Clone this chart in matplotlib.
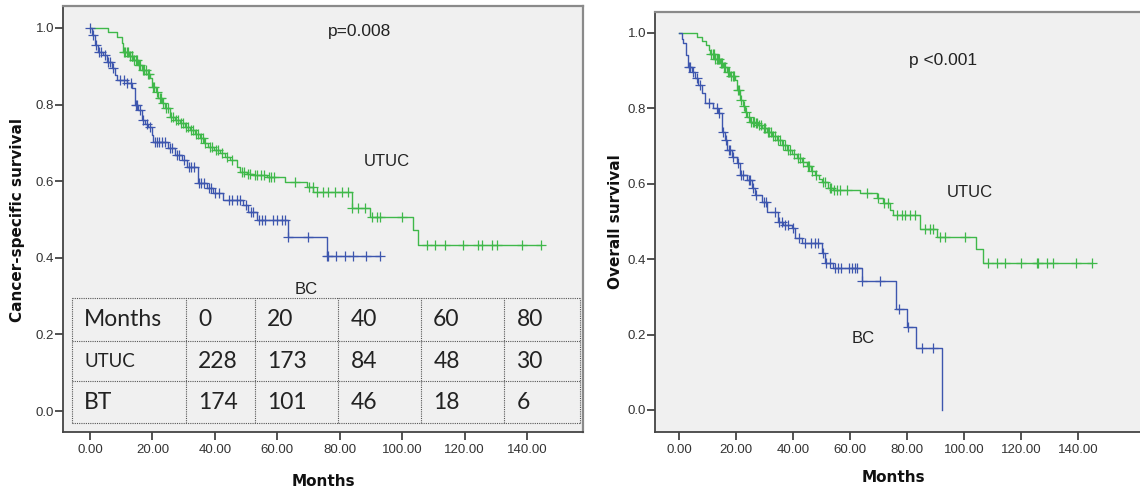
import numpy as np
import matplotlib
matplotlib.use("Agg")
import matplotlib.pyplot as plt

# ---------------- data ----------------
# Cancer-specific survival (left panel)
css_utuc_t = [5.9, 8.5, 10.1, 10.7, 12.5, 13.9, 15.3, 16.6, 18.0, 19.2, 19.8, 21.0, 21.9, 23.0, 24.0,
              25.6, 27.2, 28.8, 30.4, 32.0, 33.6, 35.2, 36.5, 37.9, 39.8, 41.7, 43.3, 44.9, 47.0, 48.1,
              50.2, 52.3, 56.6, 62.5, 69.4, 71.6, 83.8, 89.7, 103.6, 105.2]
css_utuc_s = [0.99, 0.977, 0.96, 0.938, 0.928, 0.916, 0.903, 0.89, 0.88, 0.869, 0.847, 0.832, 0.816, 0.803, 0.79,
              0.768, 0.76, 0.751, 0.742, 0.734, 0.723, 0.712, 0.70, 0.69, 0.682, 0.673, 0.664, 0.655, 0.638, 0.625,
              0.62, 0.616, 0.612, 0.599, 0.586, 0.571, 0.529, 0.507, 0.473, 0.433]
css_utuc_cens = [10.8, 11.3, 11.8, 12.2, 12.8, 13.3, 13.6, 14.2, 14.7, 15.0, 15.6, 16.1, 16.9, 17.4, 17.8, 18.5,
                 19.0, 20.2, 20.6, 21.4, 22.3, 22.8, 23.5, 24.4, 25.0, 26.0, 26.6, 27.6, 28.2, 29.3, 29.8, 30.8,
                 31.3, 32.5, 33.0, 33.9, 34.6, 35.6, 36.1, 37.0, 38.4, 39.2, 40.4, 41.0, 42.4, 43.8, 45.5, 48.6,
                 49.4, 50.7, 51.3, 52.8, 53.6, 54.9, 55.6, 57.4, 58.0, 59.1, 65.7, 70.3, 71.4, 72.6, 74.8, 76.4,
                 78.5, 80.6, 82.8, 83.9, 85.9, 88.0, 90.2, 91.9, 93.0, 99.9, 107.9, 110.5, 113.7, 119.6, 124.4,
                 125.5, 128.7, 130.3, 138.3, 144.5]

css_bc_t = [0.5, 1.6, 2.7, 4.3, 5.3, 6.9, 8.0, 8.5, 11.7, 13.5, 14.4, 15.5, 16.6, 17.5, 18.7,
            19.8, 20.3, 25.1, 27.2, 29.4, 31.0, 34.7, 37.4, 39.5, 42.7, 49.1, 50.7, 53.4, 63.5, 75.8]
css_bc_s = [0.982, 0.956, 0.938, 0.93, 0.912, 0.895, 0.877, 0.864, 0.856, 0.843, 0.799, 0.786, 0.76, 0.75, 0.742,
            0.721, 0.703, 0.686, 0.668, 0.655, 0.638, 0.595, 0.581, 0.568, 0.551, 0.538, 0.52, 0.499, 0.455, 0.405]
css_bc_cens = [0.0, 1.0, 2.0, 3.0, 3.6, 4.8, 5.8, 6.3, 7.4, 9.5, 11.0, 12.0, 13.0, 14.8, 15.2, 16.0, 17.0,
               18.2, 19.2, 20.8, 21.5, 22.2, 23.0, 24.0, 25.6, 26.3, 28.0, 28.6, 30.0, 31.6, 32.3, 33.2,
               35.0, 35.7, 36.4, 38.0, 38.8, 40.2, 41.3, 44.5, 45.6, 47.0, 48.0, 50.0, 51.6, 52.3, 54.0,
               55.0, 56.1, 58.7, 59.8, 61.4, 62.5, 63.5, 69.9, 75.8, 76.3, 78.9, 81.6, 84.3, 88.5, 92.8]

# Overall survival (right panel)
os_utuc_t = [6.2, 8.0, 9.5, 10.5, 11.0, 12.5, 14.4, 15.5, 16.7, 18.0, 19.6, 20.2, 21.4, 22.3, 23.2,
             24.0, 24.9, 26.5, 27.8, 29.3, 30.8, 32.5, 34.3, 36.0, 37.8, 39.5, 41.3, 43.0, 44.8, 46.2,
             47.7, 49.0, 50.1, 52.4, 54.0, 63.5, 69.4, 71.7, 74.0, 75.2, 84.6, 90.4, 104.4, 106.8]
os_utuc_s = [0.99, 0.98, 0.967, 0.955, 0.945, 0.93, 0.92, 0.91, 0.897, 0.886, 0.875, 0.849, 0.822, 0.806, 0.791,
             0.778, 0.765, 0.76, 0.756, 0.747, 0.738, 0.727, 0.716, 0.703, 0.69, 0.679, 0.668, 0.657, 0.646, 0.634,
             0.623, 0.614, 0.606, 0.588, 0.584, 0.575, 0.561, 0.548, 0.531, 0.517, 0.479, 0.458, 0.426, 0.391]
os_utuc_cens = [11.3, 11.8, 12.2, 12.8, 13.3, 13.7, 14.1, 14.8, 15.2, 15.9, 16.3, 17.2, 17.6, 18.3, 18.8, 19.3,
                20.6, 21.0, 21.8, 22.7, 23.6, 24.4, 25.3, 25.9, 26.2, 27.0, 27.4, 28.2, 28.8, 29.7, 30.2, 31.2,
                31.7, 32.2, 33.0, 33.6, 34.8, 35.4, 36.5, 37.2, 38.3, 39.0, 40.2, 41.8, 42.4, 43.5, 45.2, 45.8,
                46.8, 48.2, 50.6, 51.3, 52.9, 53.5, 54.5, 55.3, 56.5, 58.8, 65.9, 69.9, 71.9, 73.4, 76.4, 78.1,
                79.3, 81.1, 82.8, 86.3, 88.1, 89.2, 91.6, 93.3, 100.4, 108.5, 111.5, 114.4, 120.2, 125.5, 126.1,
                129.0, 131.3, 139.5, 145.0]

os_bc_t = [0.9, 1.5, 2.5, 3.3, 4.5, 5.6, 6.8, 8.0, 9.1, 12.0, 13.8, 15.0, 16.1, 16.7, 18.5,
           20.2, 21.4, 23.8, 25.5, 26.7, 29.0, 30.8, 34.8, 36.6, 39.5, 40.7, 43.1, 50.1, 51.2, 54.1,
           64.3, 76.1, 80.1, 83.2, 92.4]
os_bc_s = [0.985, 0.973, 0.942, 0.911, 0.897, 0.88, 0.862, 0.84, 0.814, 0.8, 0.787, 0.738, 0.716, 0.69, 0.672,
           0.654, 0.623, 0.61, 0.588, 0.57, 0.553, 0.526, 0.499, 0.491, 0.482, 0.455, 0.444, 0.416, 0.391, 0.376,
           0.342, 0.267, 0.221, 0.165, 0.0]
os_bc_cens = [3.6, 4.0, 5.0, 6.2, 7.4, 10.5, 13.2, 14.2, 15.6, 16.4, 17.4, 18.0, 19.0, 20.6, 21.8, 22.6, 24.4,
              25.0, 26.0, 27.2, 29.8, 30.4, 33.6, 35.2, 36.0, 37.2, 38.2, 40.0, 42.2, 44.2, 46.2, 47.7, 48.9,
              50.6, 51.7, 52.9, 54.9, 55.8, 56.8, 59.6, 60.8, 61.7, 62.6, 64.3, 70.5, 77.2, 80.5, 85.4, 89.2]

# number-at-risk table
table_header = ["Months", "0", "20", "40", "60", "80"]
risk_utuc = ["UTUC", "228", "173", "84", "48", "30"]
risk_bt = ["BT", "174", "101", "46", "18", "6"]

x_ticks = [0, 20, 40, 60, 80, 100, 120, 140]
y_ticks = [0.0, 0.2, 0.4, 0.6, 0.8, 1.0]

GREEN = "#3fb84a"
BLUE = "#3d56ae"
FACE = "#f0f0f0"
TICKFONT = "Liberation Sans"
LABELFONT = "DejaVu Sans"
TABLEFONT = "Lato"

W, H = 1140, 492
fig = plt.figure(figsize=(W / 100, H / 100), dpi=100)
fig.patch.set_facecolor("white")


def px_axes(l, t, r, b):
    return [l / W, 1 - b / H, (r - l) / W, (b - t) / H]


def km(ax, t, s, cens, color):
    t = np.asarray(t, float)
    s = np.asarray(s, float)
    cens = np.asarray(cens, float)
    end = max(t.max(), cens.max() if len(cens) else 0)
    tt = np.concatenate([[0.0], t, [end]])
    ss = np.concatenate([[1.0], s, [s[-1]]])
    ax.step(tt, ss, where="post", color=color, lw=1.0, zorder=3)
    idx = np.searchsorted(t, cens, side="right")
    sv = np.concatenate([[1.0], s])[idx]
    ax.plot(cens, sv, ls="none", marker="+", ms=6.5, mew=0.9, color=color, zorder=4)


def style(ax, xlim, ylim):
    ax.set_facecolor(FACE)
    ax.set_xlim(*xlim)
    ax.set_ylim(*ylim)
    ax.set_xticks(x_ticks)
    ax.set_xticklabels([f"{v:.2f}" for v in x_ticks], fontfamily=TICKFONT, fontsize=9.5, color="#333333")
    ax.set_yticks(y_ticks)
    ax.set_yticklabels([f"{v:.1f}" for v in y_ticks], fontfamily=TICKFONT, fontsize=9.5, color="#333333")
    ax.tick_params(axis="x", direction="out", length=5.5, width=1.3, color="#444444", pad=3)
    ax.tick_params(axis="y", direction="out", length=5.5, width=1.3, color="#444444", pad=1)
    for side in ["left", "bottom"]:
        ax.spines[side].set_color("#444444")
        ax.spines[side].set_linewidth(1.3)
    for side in ["top", "right"]:
        ax.spines[side].set_color("#8a8a8a")
        ax.spines[side].set_linewidth(1.6)


# ---------------- left panel ----------------
ax1 = fig.add_axes(px_axes(63, 6, 583, 432))
style(ax1, (-8.65, 157.96), (-0.0548, 1.0574))
km(ax1, css_utuc_t, css_utuc_s, css_utuc_cens, GREEN)
km(ax1, css_bc_t, css_bc_s, css_bc_cens, BLUE)
ax1.text(86.5, 0.99, "p=0.008", fontfamily=TICKFONT, fontsize=12.5, color="#222222", ha="center", va="center")
ax1.text(95, 0.652, "UTUC", fontfamily=TICKFONT, fontsize=12, color="#222222", ha="center", va="center")
ax1.text(69.4, 0.318, "BC", fontfamily=TICKFONT, fontsize=12, color="#222222", ha="center", va="center")

# table (axes-fraction layout)
col_x = [0.0167, 0.236, 0.369, 0.529, 0.688, 0.848, 0.994]
row_y = [0.314, 0.2136, 0.1197, 0.0204]
tr = ax1.transAxes
for x in col_x:
    ax1.plot([x, x], [row_y[-1], row_y[0]], transform=tr, color="#555555", lw=0.8, ls=(0, (1, 1)), zorder=5)
for y in row_y:
    ax1.plot([col_x[0], col_x[-1]], [y, y], transform=tr, color="#555555", lw=0.8, ls=(0, (1, 1)), zorder=5)
rows = [table_header, risk_utuc, risk_bt]
for r, row in enumerate(rows):
    yc = (row_y[r] + row_y[r + 1]) / 2
    for c, val in enumerate(row):
        fs = 13.5 if (c == 0 and r == 1) else 16.5
        ax1.text(col_x[c] + 0.024, yc, val, transform=tr, fontfamily=TABLEFONT, fontsize=fs,
                 color="#222222", ha="left", va="center", zorder=6)

# ---------------- right panel ----------------
ax2 = fig.add_axes(px_axes(655, 12, 1142, 432))
style(ax2, (-8.42, 162.5), (-0.0584, 1.0557))
km(ax2, os_utuc_t, os_utuc_s, os_utuc_cens, GREEN)
km(ax2, os_bc_t, os_bc_s, os_bc_cens, BLUE)
ax2.text(92.8, 0.928, "p <0.001", fontfamily=TICKFONT, fontsize=12.5, color="#222222", ha="center", va="center")
ax2.text(102, 0.578, "UTUC", fontfamily=TICKFONT, fontsize=12, color="#222222", ha="center", va="center")
ax2.text(64.7, 0.19, "BC", fontfamily=TICKFONT, fontsize=12, color="#222222", ha="center", va="center")

# axis labels
fig.text(323 / W, 1 - 481 / H, "Months", fontfamily=LABELFONT, fontweight="bold", fontsize=11,
         ha="center", va="center", color="#111111")
fig.text(893 / W, 1 - 478 / H, "Months", fontfamily=LABELFONT, fontweight="bold", fontsize=11,
         ha="center", va="center", color="#111111")
fig.text(18 / W, 1 - 220 / H, "Cancer-specific survival", fontfamily=LABELFONT, fontweight="bold", fontsize=11,
         ha="center", va="center", rotation=90, color="#111111")
fig.text(616 / W, 1 - 222 / H, "Overall survival", fontfamily=LABELFONT, fontweight="bold", fontsize=11,
         ha="center", va="center", rotation=90, color="#111111")

fig.savefig("out.png", dpi=100, facecolor="white")
